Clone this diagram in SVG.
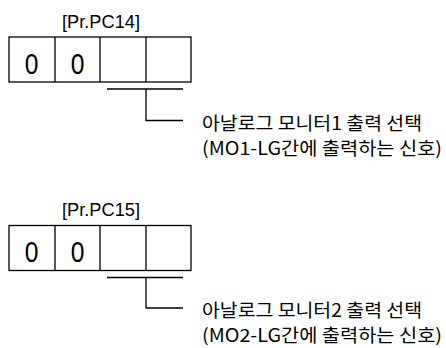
<svg xmlns="http://www.w3.org/2000/svg" width="446" height="348" viewBox="0 0 446 348">
<style>
.box{fill:#fff;stroke:#000;stroke-width:1.3}
.ln{fill:none;stroke:#000;stroke-width:1.3}
.par{font-family:"Liberation Sans","Noto Sans CJK KR",sans-serif;font-size:19px;fill:#000}
.dig{font-family:"Liberation Sans",sans-serif;font-size:30px;fill:#000;text-anchor:middle}
.kr{font-family:"Noto Sans CJK KR",sans-serif;font-size:18px;fill:#000}
</style>
<g id="pc14">
<text class="par" x="62" y="27.5" textLength="78" lengthAdjust="spacingAndGlyphs">[Pr.PC14]</text>
<rect class="box" x="9" y="37" width="182" height="45"/>
<path class="ln" d="M55 37V82M100 37V82M146 37V82"/>
<text class="dig" transform="translate(31.5 74) scale(0.82 1)">0</text>
<text class="dig" transform="translate(77.5 74) scale(0.82 1)">0</text>
</g>
<g id="label1">
<text class="kr" x="202" y="130" textLength="220" lengthAdjust="spacingAndGlyphs">아날로그 모니터1 출력 선택</text>
<text class="kr" x="202" y="155" textLength="240" lengthAdjust="spacingAndGlyphs">(MO1-LG간에 출력하는 신호)</text>
</g>
<g id="pc15">
<text class="par" x="62" y="215.5" textLength="78" lengthAdjust="spacingAndGlyphs">[Pr.PC15]</text>
<rect class="box" x="9" y="225.5" width="182" height="45"/>
<path class="ln" d="M55 225.5V270.5M100 225.5V270.5M146 225.5V270.5"/>
<text class="dig" transform="translate(31.5 262) scale(0.82 1)">0</text>
<text class="dig" transform="translate(77.5 262) scale(0.82 1)">0</text>
</g>
<g id="label2">
<text class="kr" x="202" y="317" textLength="220" lengthAdjust="spacingAndGlyphs">아날로그 모니터2 출력 선택</text>
<text class="kr" x="202" y="342" textLength="240" lengthAdjust="spacingAndGlyphs">(MO2-LG간에 출력하는 신호)</text>
</g>
<g id="connectors">
<path class="ln" d="M107 89H183M146 89V120.5H183"/>
<path class="ln" d="M107 277.5H183M146 277.5V308H183"/>
</g>
</svg>
